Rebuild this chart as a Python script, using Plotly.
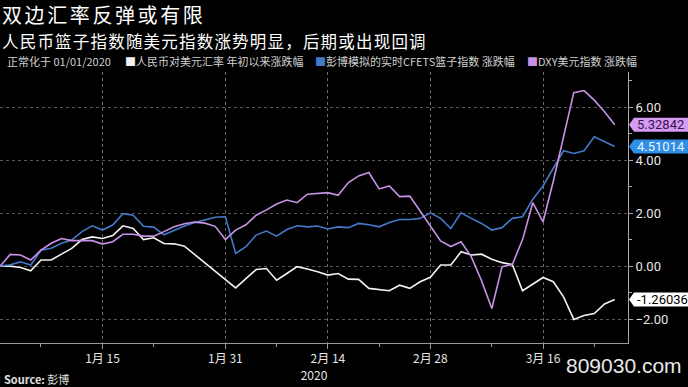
import plotly.graph_objects as go

# ---------------- data ----------------
jan_days = [1, 2, 3, 6, 7, 8, 9, 10, 13, 14, 15, 16, 17, 20, 21, 22, 23, 24, 27, 28, 29, 30, 31]
feb_days = [3, 4, 5, 6, 7, 10, 11, 12, 13, 14, 17, 18, 19, 20, 21, 24, 25, 26, 27, 28]
mar_days = [2, 3, 4, 5, 6, 9, 10, 11, 12, 13, 16, 17, 18, 19, 20, 23, 24, 25]
dates = ([f"2020-01-{d:02d}" for d in jan_days] + [f"2020-02-{d:02d}" for d in feb_days]
         + [f"2020-03-{d:02d}" for d in mar_days])

# 人民币对美元汇率 年初以来涨跌幅 (white)
usdcny = [0, 0, -0.05, -0.18, 0.23, 0.23, 0.45, 0.67, 1.0, 1.1,
          1.04, 1.15, 1.52, 1.42, 1.0, 1.07, 0.85, 0.84, 0.75, None,
          None, None, None, -0.82, -0.47, -0.13, -0.09, -0.53, -0.28, -0.02,
          -0.11, -0.21, -0.34, -0.28, -0.49, -0.5, -0.84, -0.88, -0.93, -0.72,
          -0.84, -0.59, -0.42, 0.04, 0.04, 0.54, 0.42, 0.45, 0.26, 0.13,
          0.06, -0.93, -0.68, -0.43, -0.59, -1.16, -2.01, -1.86, -1.79, -1.43, -1.26036]

# 彭博模拟的实时CFETS篮子指数 涨跌幅 (blue)
cfets = [0, 0.05, 0.16, 0.04, 0.6, 0.67, 0.86, 0.98, 1.3, 1.52,
         1.36, 1.55, 1.98, 1.92, 1.5, 1.47, 1.18, 1.36, 1.51, 1.64,
         1.74, 1.84, 1.86, 0.48, 0.73, 1.17, 1.32, 1.13, 1.38, 1.52,
         1.48, 1.51, 1.4, 1.48, 1.45, 1.61, 1.56, 1.48, 1.64, 1.76,
         1.76, 1.8, 2.01, 1.8, 1.42, 2.01, 1.8, 1.61, 1.36, 1.45,
         1.8, 1.86, 2.52, 3.02, 3.69, 4.35, 4.25, 4.35, 4.88, 4.69, 4.51014]

# DXY美元指数 涨跌幅 (purple)
dxy = [0, 0.44, 0.42, 0.23, 0.6, 0.86, 1.04, 0.96, 0.96, 0.96,
       0.83, 0.92, 1.2, 1.2, 1.13, 1.13, 1.3, 1.48, 1.6, 1.66,
       1.62, 1.5, 1.0, 1.36, 1.56, 1.92, 2.12, 2.34, 2.49, 2.39,
       2.71, 2.73, 2.77, 2.67, 3.15, 3.40, 3.53, 2.91, 3.02, 2.62,
       2.64, 2.08, 1.5, 0.95, 0.74, 0.92, 0.35, -0.55, -1.6, -0.02,
       0.06, 1.0, 2.39, 1.67, 3.2, 4.9, 6.54, 6.62, 6.26, 5.82, 5.32842]

series_names = ["人民币对美元汇率 年初以来涨跌幅", "彭博模拟的实时CFETS篮子指数 涨跌幅", "DXY美元指数 涨跌幅"]

tick_dates = ["2020-01-15", "2020-01-31", "2020-02-14", "2020-02-28", "2020-03-16"]
tick_labels = ["1月 15", "1月 31", "2月 14", "2月 28", "3月 16"]
minor_dates = ["2020-01-07", "2020-01-22", "2020-02-07", "2020-02-21", "2020-03-09", "2020-03-23"]
y_ticks = [-2, 0, 2, 4, 6]

title = "双边汇率反弹或有限"
subtitle = "人民币篮子指数随美元指数涨势明显，后期或出现回调"
legend_prefix = "正常化于 01/01/2020"
source = "<b>Source:</b> 彭博"
watermark = "809030.com"

# ---------------- style ----------------
WHITE = "#f2f2f2"
BLUE = "#4379c9"
PURPLE = "#c792e6"
tag_styles = [("#ffffff", "#000000"), ("#2f8ee6", "#eaf4ff"), ("#d49cf0", "#3a1050")]
CJK = "Noto Sans CJK SC"
NUM = "Liberation Sans Narrow, Roboto, Noto Sans CJK SC"

W, H = 688, 387
ML, MR, MT, MB = 0, 60, 72, 44
PW = W - ML - MR
PH = H - MT - MB


def px(x):
    return (x - ML) / PW


def py(y):
    return (H - MB - y) / PH


fig = go.Figure()
series = [usdcny, cfets, dxy]
colors = [WHITE, BLUE, PURPLE]
for vals, name, col in zip(series, series_names, colors):
    fig.add_trace(go.Scatter(x=dates, y=vals, name=name, mode="lines",
                             line=dict(color=col, width=1.6), connectgaps=True))

yr = [-2.9, 7.32]
units_per_px = (yr[1] - yr[0]) / PH
half = 7 * units_per_px
shapes = []
annotations = []
for vals, (bg, fg) in zip(series, tag_styles):
    v = vals[-1]
    path = (f"M {px(629)},{v} L {px(634)},{v + half} L {px(692)},{v + half} "
            f"L {px(692)},{v - half} L {px(634)},{v - half} Z")
    shapes.append(dict(type="path", xref="paper", yref="y", path=path,
                       fillcolor=bg, line=dict(width=0), layer="above"))
    annotations.append(dict(xref="paper", yref="y", x=px(635), y=v, xanchor="left", yanchor="middle",
                            text=f"{v:.5f}", showarrow=False,
                            font=dict(family=NUM, size=13, color=fg)))

# titles
annotations.append(dict(xref="paper", yref="paper", x=px(1), y=py(14.8), xanchor="left", yanchor="middle",
                        text=f"<span style='letter-spacing:2.6px'>{title}</span>", showarrow=False, borderpad=0,
                        font=dict(family=CJK, size=20, color="#ffffff")))
annotations.append(dict(xref="paper", yref="paper", x=px(1), y=py(41), xanchor="left", yanchor="middle",
                        text=f"<span style='letter-spacing:1.2px'>{subtitle}</span>", showarrow=False, borderpad=0,
                        font=dict(family=CJK, size=16.5, color="#ffffff")))
# legend row
legend_items = [(6, legend_prefix, None), (124, series_names[0], WHITE),
                (314, series_names[1], BLUE), (526, series_names[2], PURPLE)]
for xpos, txt, col in legend_items:
    t = txt if col is None else f"<span style='color:{col}'>■</span>{txt}"
    annotations.append(dict(xref="paper", yref="paper", x=px(xpos), y=py(61.5), xanchor="left", yanchor="middle",
                            text=t, showarrow=False, borderpad=0,
                            font=dict(family=CJK, size=11, color="#d0d0d0")))
annotations.append(dict(xref="paper", yref="paper", x=px(2), y=py(379), xanchor="left", yanchor="middle",
                        text=source, showarrow=False, font=dict(family=CJK, size=11, color="#e0e0e0")))
annotations.append(dict(xref="paper", yref="paper", x=px(684), y=py(365), xanchor="right", yanchor="middle",
                        text=watermark, showarrow=False,
                        font=dict(family="Liberation Sans, Arial", size=21, color="#e8e8e8")))

fig.update_layout(
    width=W, height=H, margin=dict(l=ML, r=MR, t=MT, b=MB),
    paper_bgcolor="#000000", plot_bgcolor="#000000", showlegend=False,
    shapes=shapes, annotations=annotations,
    xaxis=dict(type="date", range=["2020-01-01", "2020-03-26 07:00"],
               rangebreaks=[dict(bounds=["sat", "mon"])],
               tickmode="array", tickvals=tick_dates, ticktext=tick_labels,
               ticks="outside", ticklen=5, tickcolor="#999999",
               tickfont=dict(family=CJK, size=12, color="#e6e6e6"),
               showline=True, linecolor="#999999", linewidth=1,
               showgrid=True, gridcolor="#6a6a6a", griddash="dot", gridwidth=1, zeroline=False,
               minor=dict(tickmode="array", tickvals=minor_dates, ticks="outside", ticklen=3,
                          tickcolor="#999999", showgrid=False),
               title=dict(text="2020", standoff=2, font=dict(family=CJK, size=12, color="#e6e6e6"))),
    yaxis=dict(side="right", range=yr, tickmode="array", tickvals=y_ticks, tickformat=".2f",
               ticks="outside", ticklen=4, tickcolor="#aaaaaa",
               tickfont=dict(family=NUM, size=13, color="#e6e6e6"),
               showline=True, linecolor="#aaaaaa", linewidth=1,
               showgrid=True, gridcolor="#555555", griddash="dot", gridwidth=1, zeroline=False,
               minor=dict(tickmode="array", tickvals=[-1, 1, 3, 5, 7], ticks="outside", ticklen=3,
                          tickcolor="#aaaaaa", showgrid=False)),
)

fig.write_html("out.html")
